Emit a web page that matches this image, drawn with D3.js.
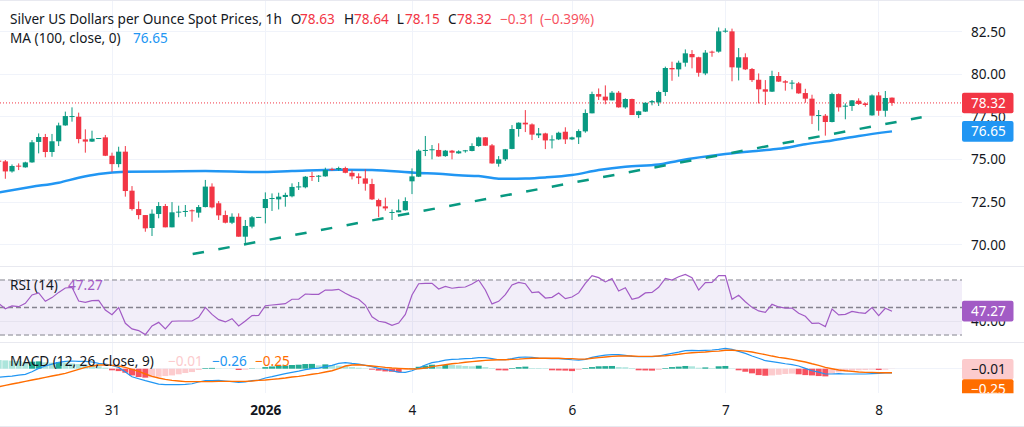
<!DOCTYPE html>
<html>
<head>
<meta charset="utf-8">
<script src="https://cdn.jsdelivr.net/npm/d3@7"></script>
<style>
  html, body { margin: 0; padding: 0; background: #fff; overflow: hidden; }
  svg { display: block; font-family: "Noto Sans", sans-serif; }
</style>
</head>
<body>
<svg id="chart" width="1024" height="427"></svg>
<script>
const opens = [
  74.93,74.89,74.30,74.64,74.54,74.83,76.03,76.32,75.44,76.07,
  77.00,77.51,77.51,76.18,76.05,76.22,76.30,75.22,74.73,75.46,
  73.17,72.09,71.74,70.98,71.80,72.27,71.02,71.90,71.94,72.02,
  71.88,72.21,73.41,72.43,71.74,71.29,71.64,70.47,71.06,71.59,
  72.15,72.70,72.66,72.80,72.84,73.39,73.37,74.03,73.99,74.01,
  74.44,74.42,74.50,74.22,74.01,73.89,73.56,72.62,72.25,71.90,
  71.90,72.02,73.72,73.99,75.52,75.56,75.56,75.20,75.52,75.36,
  75.50,75.50,75.79,76.30,75.83,74.75,75.01,75.62,76.79,77.16,
  77.06,76.42,76.53,76.12,76.18,76.63,76.18,76.30,76.65,77.71,
  78.84,78.69,78.47,78.92,78.06,78.55,77.61,77.81,78.35,78.35,
  78.96,80.37,80.29,80.68,81.19,81.00,80.05,81.33,81.33,82.52,
  82.52,80.39,81.00,80.31,79.68,79.12,78.98,79.90,79.59,79.47,
  79.47,78.90,78.57,77.55,77.57,77.20,78.84,78.10,78.14,78.45,
  78.29,77.59,78.76,77.86,78.63
];
const highs = [
  74.97,74.97,74.71,74.77,74.87,76.14,76.53,76.50,76.50,77.16,
  77.81,78.06,77.75,76.77,76.69,76.26,76.44,75.40,75.75,75.79,
  73.44,72.54,71.74,72.07,72.50,72.39,72.50,72.29,72.33,72.07,
  72.33,73.80,73.60,72.56,72.00,71.84,71.84,71.45,71.68,71.63,
  73.07,73.01,73.05,73.05,73.60,73.68,74.03,74.27,74.09,74.52,
  74.52,74.58,74.58,74.38,74.19,74.42,73.87,72.70,72.76,72.07,
  72.66,72.78,74.48,75.60,76.38,75.85,75.95,75.56,75.56,75.54,
  75.56,75.95,76.34,76.32,75.91,75.20,75.62,77.02,77.18,77.90,
  77.12,76.85,76.57,76.42,76.63,76.89,76.34,76.77,77.94,78.98,
  79.17,79.35,79.02,79.02,78.59,78.57,77.86,78.35,78.49,79.04,
  80.45,80.74,80.80,81.46,81.42,81.03,81.42,81.39,82.75,82.70,
  82.68,81.54,81.23,80.37,80.05,79.66,80.21,80.13,79.66,79.66,
  79.55,79.15,78.80,77.90,77.67,78.92,78.88,78.29,78.49,78.59,
  78.33,78.82,78.96,79.02,78.64
];
const lows = [
  74.81,73.87,74.23,74.38,74.52,74.81,75.36,75.13,75.16,75.79,
  76.98,77.22,75.95,75.40,76.03,76.22,75.20,74.28,74.54,72.82,
  72.00,71.49,70.76,70.51,71.55,71.02,71.02,71.61,71.64,71.35,
  71.59,72.19,72.13,71.45,71.25,71.21,70.47,70.08,70.96,71.59,
  71.25,71.98,72.07,72.23,72.78,73.21,73.31,73.74,73.68,73.99,
  74.34,74.34,74.19,73.83,73.56,73.17,72.62,71.61,72.00,71.45,
  71.90,72.00,72.97,73.97,75.20,75.01,75.16,75.16,75.01,75.34,
  75.40,75.48,75.75,75.79,74.75,74.58,74.91,75.60,76.34,76.61,
  76.14,76.26,75.61,75.65,76.14,75.91,76.14,75.91,76.57,77.71,
  78.49,78.24,78.47,78.04,77.98,77.61,77.43,77.79,78.18,78.14,
  78.73,79.62,79.86,80.45,80.35,79.86,79.95,81.03,81.27,82.44,
  79.59,79.64,80.25,79.55,78.29,78.20,78.96,79.55,79.04,79.12,
  78.86,78.33,77.08,76.69,76.40,77.18,77.81,77.36,77.85,78.20,
  78.10,77.57,77.57,77.51,78.15
];
const closes = [
  74.89,74.30,74.62,74.58,74.83,76.01,76.32,75.44,76.07,77.00,
  77.55,77.55,76.20,76.05,76.22,76.26,75.22,74.73,75.46,73.15,
  72.09,71.74,70.96,71.82,72.27,71.02,71.90,71.94,71.98,71.98,
  72.21,73.41,72.19,71.72,71.29,71.64,70.47,71.10,71.61,71.63,
  72.68,72.74,72.82,72.92,73.39,73.42,73.99,73.99,74.05,74.38,
  74.40,74.50,74.22,74.01,73.91,73.58,72.66,72.25,72.13,71.92,
  72.02,72.56,74.01,75.52,75.56,75.60,75.18,75.52,75.40,75.48,
  75.54,75.79,76.30,75.81,74.77,75.01,75.60,76.79,77.16,77.06,
  76.46,76.53,76.12,76.18,76.57,76.18,76.30,76.67,77.73,78.84,
  78.69,78.47,78.92,78.06,78.55,77.61,77.83,78.33,78.43,78.96,
  80.37,80.29,80.68,81.23,81.00,80.09,81.27,81.27,82.52,82.56,
  80.41,81.00,80.29,79.66,79.12,78.98,79.90,79.57,79.51,79.51,
  78.88,78.57,77.57,77.61,77.20,78.84,78.06,78.16,78.47,78.26,
  78.20,78.76,77.86,78.61,78.32
];

// MA is read at these bars only, the curve joins them
const maBars = [0,5,9,12,15,19,25,31,39,44,51,56,63,66,69,72,75,79,82,86,90,94,99,102,109,114,117,121,125,129,134];
const maValues = [73.07,73.40,73.64,73.93,74.15,74.28,74.30,74.32,74.26,74.32,74.40,74.38,74.21,74.17,74.07,74.03,73.87,73.89,73.95,74.09,74.38,74.58,74.70,74.93,75.32,75.52,75.63,75.89,76.12,76.38,76.65];

const trendBars = [29.1, 138.45];
const trendPrices = [69.45, 77.48];

const rsiValues = [
  53.0,49.1,51.1,50.6,53.0,59.1,60.6,54.5,57.2,61.0,
  64.2,64.7,54.7,53.8,55.0,55.2,48.2,44.8,49.9,38.5,
  34.4,33.2,30.3,36.6,39.2,34.4,40.0,40.2,40.2,40.2,
  42.9,50.1,45.0,41.2,39.5,41.9,36.6,40.2,44.1,44.3,
  51.3,51.8,52.3,52.8,56.0,56.0,59.8,59.6,59.6,62.7,
  62.7,63.2,60.3,57.9,56.0,51.8,43.3,40.0,39.2,37.0,
  38.7,45.0,59.1,67.3,67.6,67.6,63.5,65.4,64.0,64.7,
  64.9,67.1,70.0,62.7,52.6,54.5,59.3,66.4,68.3,67.3,
  60.8,61.3,56.9,57.4,60.6,56.4,57.6,60.6,67.6,73.2,
  71.7,68.6,71.0,62.0,64.4,56.0,57.2,60.6,61.0,64.7,
  71.2,70.0,72.4,74.1,71.7,62.7,68.1,68.3,73.2,73.2,
  56.0,58.9,54.2,50.1,47.5,46.5,52.3,50.4,49.6,49.6,
  45.8,43.6,38.5,38.7,36.1,48.9,44.6,45.0,47.2,46.3,
  45.8,49.9,44.1,49.4,47.27
];

const macdValues = [
  -0.54,-0.50,-0.46,-0.40,-0.35,-0.19,0.02,0.17,0.29,0.40,
  0.46,0.48,0.46,0.46,0.42,0.33,0.29,0.21,0.08,-0.21,
  -0.50,-0.63,-0.75,-0.85,-0.96,-1.00,-1.00,-1.00,-0.98,-0.94,
  -0.83,-0.75,-0.75,-0.73,-0.77,-0.81,-0.85,-0.83,-0.75,-0.71,
  -0.58,-0.50,-0.40,-0.31,-0.23,-0.15,-0.06,0,0.04,0.13,
  0.21,0.33,0.38,0.33,0.29,0.21,0.13,0.02,-0.04,-0.13,
  -0.21,-0.23,-0.13,0.04,0.23,0.38,0.44,0.54,0.58,0.60,
  0.63,0.65,0.69,0.69,0.63,0.56,0.56,0.63,0.71,0.73,
  0.71,0.67,0.65,0.63,0.63,0.60,0.56,0.54,0.58,0.71,
  0.79,0.85,0.88,0.88,0.83,0.77,0.75,0.75,0.75,0.79,
  0.88,0.96,1.04,1.13,1.15,1.13,1.15,1.17,1.21,1.27,
  1.21,1.08,0.96,0.79,0.65,0.50,0.44,0.38,0.31,0.25,
  0.17,0.02,-0.13,-0.21,-0.33,-0.33,-0.31,-0.33,-0.33,-0.33,
  -0.33,-0.31,-0.29,-0.27,-0.26
];
const signalValues = [
  -1.13,-1.04,-0.96,-0.88,-0.79,-0.71,-0.63,-0.54,-0.46,-0.38,
  -0.29,-0.17,-0.04,0.08,0.17,0.23,0.23,0.21,0.17,0.08,
  -0.04,-0.17,-0.33,-0.48,-0.58,-0.67,-0.73,-0.77,-0.81,-0.81,
  -0.81,-0.81,-0.81,-0.79,-0.79,-0.79,-0.79,-0.79,-0.77,-0.73,
  -0.71,-0.67,-0.63,-0.58,-0.52,-0.48,-0.42,-0.35,-0.29,-0.21,
  -0.13,0,0.17,0.23,0.25,0.21,0.17,0.13,0.08,0.04,
  0.02,0,-0.02,0,0.04,0.13,0.19,0.25,0.31,0.35,
  0.40,0.44,0.48,0.52,0.54,0.56,0.56,0.58,0.60,0.63,
  0.65,0.65,0.65,0.65,0.65,0.63,0.63,0.60,0.60,0.65,
  0.69,0.73,0.77,0.79,0.79,0.79,0.77,0.77,0.77,0.79,
  0.81,0.85,0.90,0.96,1.00,1.02,1.04,1.08,1.10,1.15,
  1.15,1.13,1.10,1.04,0.96,0.88,0.79,0.71,0.65,0.58,
  0.50,0.42,0.31,0.21,0.08,0,-0.08,-0.13,-0.17,-0.21,
  -0.23,-0.23,-0.25,-0.25,-0.25
];
const histValues = [
  0.54,0.52,0.50,0.48,0.40,0.44,0.46,0.40,0.38,0.42,
  0.38,0.33,0.29,0.25,0.21,0.15,0.06,-0.10,-0.15,-0.25,
  -0.42,-0.52,-0.56,-0.54,-0.50,-0.46,-0.42,-0.35,-0.27,-0.21,
  -0.08,0.04,0.05,0.02,0.01,0.01,-0.08,-0.06,0.02,0.02,
  0.10,0.14,0.18,0.20,0.23,0.25,0.29,0.30,0.21,0.27,
  0.23,0.19,0.15,0.10,0.06,0.02,-0.06,-0.12,-0.17,-0.19,
  -0.23,-0.06,0.04,0.12,0.19,0.25,0.13,0.23,0.23,0.21,
  0.17,0.15,0.19,0.10,0.04,-0.10,-0.11,0.04,0.10,0.13,
  0.04,0.04,0.03,-0.10,-0.11,-0.12,-0.15,-0.08,0.04,0.10,
  0.15,0.16,0.17,0.10,0.09,0.04,-0.10,-0.11,-0.12,-0.08,
  0.04,0.10,0.13,0.17,0.15,0.06,0.08,0.04,0.15,0.17,
  0.02,-0.10,-0.19,-0.29,-0.40,-0.44,-0.42,-0.38,-0.33,-0.31,
  -0.35,-0.40,-0.42,-0.46,-0.48,-0.31,-0.23,-0.17,-0.13,-0.10,
  -0.08,-0.06,-0.08,-0.06,-0.01
];

const priceTicks = [82.5, 80, 77.5, 75, 72.5, 70];
const rsiBands = [70, 50, 30];
const rsiTicks = [40];
const dayBars = [17, 40, 62, 86, 109, 132];
const dayLabels = ['31', '2026', '4', '6', '7', '8'];

const titleText = 'Silver US Dollars per Ounce Spot Prices, 1h';
const maText = 'MA (100, close, 0)';
const rsiText = 'RSI (14)';
const macdText = 'MACD (12, 26, close, 9)';
const lastClose = 78.32;
const lastMa = 76.65;
const lastRsi = 47.27;
const lastHist = -0.01;
const lastMacd = -0.26;
const lastSignal = -0.25;

const green = '#089981', red = '#f23645', blue = '#2196f3', orange = '#ff6d00', purple = '#a25bc5';
const textColor = '#131722', gridColor = '#f0f3fa', lineColor = '#e8e9f0';
const plotRight = 962;
const fontSize = 13.6;

const svg = d3.select('#chart');
const fmt = d3.format('.2f');
const minus = (v) => fmt(v).replace('-', '\u2212');

const x = d3.scaleLinear().domain([0, 134]).range([-1.33, 892]);
const yPrice = d3.scaleLinear().domain([82.5, 70]).range([31.7, 244.7]);
const yRsi = d3.scaleLinear().domain([70, 30]).range([280, 335]);
const yMacd = d3.scaleLinear().domain([1, -1]).range([352.7, 384.7]);

const bars = opens.map((o, i) => ({ i, o, h: highs[i], l: lows[i], c: closes[i] }));

svg.append('rect').attr('width', 1024).attr('height', 427).attr('fill', '#fff');

const defs = svg.append('defs');
defs.append('clipPath').attr('id', 'mainClip').append('rect').attr('width', plotRight).attr('height', 266);
defs.append('clipPath').attr('id', 'macdClip').append('rect').attr('y', 343).attr('width', plotRight).attr('height', 50);
defs.append('clipPath').attr('id', 'labelClip').append('rect').attr('x', plotRight).attr('y', 343).attr('width', 62).attr('height', 50.3);

// grid
const grid = svg.append('g').attr('shape-rendering', 'crispEdges');
grid.selectAll('.h').data(priceTicks).join('line')
  .attr('x1', 0).attr('x2', plotRight)
  .attr('y1', d => yPrice(d)).attr('y2', d => yPrice(d))
  .attr('stroke', gridColor);
grid.selectAll('.v').data(dayBars).join('line')
  .attr('x1', d => x(d)).attr('x2', d => x(d))
  .attr('y1', 0).attr('y2', 393)
  .attr('stroke', gridColor);

// pane borders
[0.5, 266, 342.5, 426].forEach(y => {
  svg.append('line').attr('x1', 0).attr('x2', 1024).attr('y1', y).attr('y2', y)
    .attr('stroke', lineColor).attr('shape-rendering', 'crispEdges');
});

// price pane
const main = svg.append('g').attr('clip-path', 'url(#mainClip)');

main.append('line')
  .attr('x1', 0).attr('x2', plotRight)
  .attr('y1', yPrice(lastClose)).attr('y2', yPrice(lastClose))
  .attr('stroke', red).attr('stroke-width', 1).attr('stroke-dasharray', '1 2');

const maLine = d3.line().x((d, i) => x(maBars[i])).y(d => yPrice(d)).curve(d3.curveMonotoneX);
main.append('path').attr('d', maLine(maValues))
  .attr('fill', 'none').attr('stroke', blue).attr('stroke-width', 2.5);

const trendLine = d3.line().x((d, i) => x(trendBars[i])).y(d => yPrice(d));
main.append('path').attr('d', trendLine(trendPrices))
  .attr('fill', 'none').attr('stroke', green).attr('stroke-width', 2.5)
  .attr('stroke-dasharray', '11.5 14.6');

main.selectAll('.wick').data(bars).join('line')
  .attr('x1', d => x(d.i)).attr('x2', d => x(d.i))
  .attr('y1', d => yPrice(d.h)).attr('y2', d => yPrice(d.l))
  .attr('stroke', d => d.c >= d.o ? green : red);
main.selectAll('.body').data(bars).join('rect')
  .attr('x', d => x(d.i) - 2.6).attr('width', 5.2)
  .attr('y', d => yPrice(Math.max(d.o, d.c)))
  .attr('height', d => Math.max(1, Math.abs(yPrice(d.o) - yPrice(d.c))))
  .attr('fill', d => d.c >= d.o ? green : red);

// rsi pane
svg.append('rect')
  .attr('x', 0).attr('width', plotRight)
  .attr('y', yRsi(70)).attr('height', yRsi(30) - yRsi(70))
  .attr('fill', 'rgba(126,87,194,0.1)');
svg.selectAll('.rsiGrid').data(rsiTicks).join('line')
  .attr('x1', 0).attr('x2', plotRight)
  .attr('y1', d => yRsi(d)).attr('y2', d => yRsi(d))
  .attr('stroke', '#e6e3ef').attr('shape-rendering', 'crispEdges');
svg.selectAll('.rsiBand').data(rsiBands).join('line')
  .attr('x1', 0).attr('x2', plotRight)
  .attr('y1', d => yRsi(d)).attr('y2', d => yRsi(d))
  .attr('stroke', d => d === 50 ? '#85838f' : '#aaaab2')
  .attr('stroke-width', 1.3)
  .attr('stroke-dasharray', '5 3');
const rsiLine = d3.line().x((d, i) => x(i)).y(d => yRsi(d));
svg.append('path').attr('d', rsiLine(rsiValues))
  .attr('fill', 'none').attr('stroke', purple).attr('stroke-width', 1.2);

// macd pane
svg.append('line').attr('x1', 0).attr('x2', plotRight)
  .attr('y1', yMacd(0)).attr('y2', yMacd(0))
  .attr('stroke', gridColor).attr('shape-rendering', 'crispEdges');

const macd = svg.append('g').attr('clip-path', 'url(#macdClip)');
const histColor = (v, i) => {
  const prev = i > 0 ? histValues[i - 1] : v;
  if (v >= 0) return v > prev ? '#22ab94' : '#ace5dc';
  return v < prev ? '#f7525f' : '#fccbcd';
};
macd.selectAll('.hist').data(histValues).join('rect')
  .attr('x', (d, i) => x(i) - 3).attr('width', 6)
  .attr('y', d => Math.min(yMacd(d), yMacd(0)))
  .attr('height', d => Math.abs(yMacd(d) - yMacd(0)))
  .attr('fill', histColor);
const macdLine = d3.line().x((d, i) => x(i)).y(d => yMacd(d));
macd.append('path').attr('d', macdLine(macdValues))
  .attr('fill', 'none').attr('stroke', blue).attr('stroke-width', 1.2);
macd.append('path').attr('d', macdLine(signalValues))
  .attr('fill', 'none').attr('stroke', orange).attr('stroke-width', 1.4);

// axes
const priceAxis = d3.axisRight(yPrice).tickValues(priceTicks).tickFormat(fmt).tickSize(0).tickPadding(0);
const pa = svg.append('g').attr('transform', 'translate(971,0)').call(priceAxis);
const rsiAxis = d3.axisRight(yRsi).tickValues(rsiTicks).tickFormat(fmt).tickSize(0).tickPadding(0);
const ra = svg.append('g').attr('transform', 'translate(971,0)').call(rsiAxis);
const timeAxis = d3.axisBottom(x).tickValues(dayBars).tickFormat((d, i) => dayLabels[i]).tickSize(0).tickPadding(0);
const ta = svg.append('g').attr('transform', 'translate(0,405)').call(timeAxis);
[pa, ra, ta].forEach(a => {
  a.select('.domain').remove();
  a.selectAll('text').attr('fill', textColor).attr('font-size', fontSize).attr('font-family', '"Noto Sans", sans-serif');
});
ta.selectAll('text').attr('font-weight', (d, i) => dayLabels[i] === '2026' ? 'bold' : 'normal');

// last value boxes on the price scale
function valueBox(parent, y, h, fill, label, color) {
  parent.append('rect').attr('x', plotRight).attr('y', y).attr('width', 51.5).attr('height', h).attr('rx', 2).attr('fill', fill);
  parent.append('text').attr('x', 971).attr('y', y + 10.3).attr('dy', '0.35em')
    .attr('font-size', fontSize).attr('fill', color).text(label);
}
valueBox(svg, yPrice(lastClose) - 10.2, 20.4, red, fmt(lastClose), '#fff');
valueBox(svg, yPrice(lastMa) - 10.4, 20.8, blue, fmt(lastMa), '#fff');
valueBox(svg, yRsi(lastRsi) - 10.4, 20.6, purple, fmt(lastRsi), '#fff');
const macdBoxes = svg.append('g').attr('clip-path', 'url(#labelClip)');
valueBox(macdBoxes, 359, 20.4, '#fccbcd', minus(lastHist), textColor);
valueBox(macdBoxes, 379.3, 20.6, orange, minus(lastSignal), '#fff');

// legends
function legend(items, y) {
  items.forEach(it => {
    svg.append('text').attr('x', it[0]).attr('y', y).attr('dy', '0.35em')
      .attr('font-size', fontSize).attr('fill', it[2]).text(it[1]);
  });
}
legend([
  [10, titleText, textColor],
  [290.7, 'O', textColor], [300, '78.63', red],
  [344, 'H', textColor], [354, '78.64', red],
  [396.7, 'L', textColor], [405, '78.15', red],
  [448, 'C', textColor], [457, '78.32', red],
  [500, '\u22120.31', '#f7525f'], [540, '(\u22120.39%)', '#f7525f']
], 19);
legend([[10, maText, textColor], [133, fmt(lastMa), blue]], 38.5);
legend([[10, rsiText, textColor], [68, fmt(lastRsi), purple]], 285);
legend([
  [10, macdText, textColor],
  [168, minus(lastHist), '#fccbcd'],
  [212, minus(lastMacd), blue],
  [255, minus(lastSignal), orange]
], 361);
</script>
</body>
</html>
